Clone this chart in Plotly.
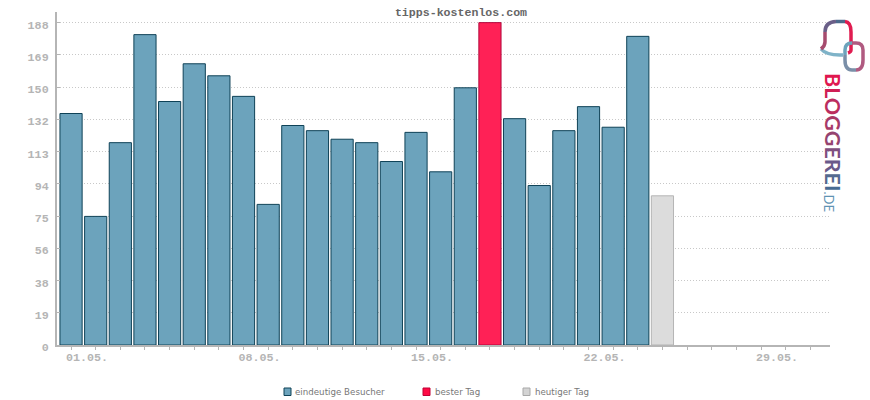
import re
import plotly.graph_objects as go

days = list(range(31))
blue_x = [d for d in range(24) if d != 17]
blue_y = [135, 75, 118, 181, 142, 164, 157, 145, 82, 128, 125, 120, 118, 107, 124, 101, 150, 132, 93, 125, 139, 127, 180]
best_x = [17]
best_y = [188]
today_x = [24]
today_y = [87]
y_tick_vals = [0, 18.8, 37.6, 56.4, 75.2, 94, 112.8, 131.6, 150.4, 169.2, 188]
y_tick_text = ["0", "19", "38", "56", "75", "94", "113", "132", "150", "169", "188"]
x_label_days = [0, 7, 14, 21, 28]
x_labels = ["01.05.", "08.05.", "15.05.", "22.05.", "29.05."]
legend_names = ["eindeutige Besucher", "bester Tag", "heutiger Tag"]

W, H = 870, 400
L, R, T, B = 57, 830, 12, 345
LABEL_SHIFT = 0.65
GREY = "#b5b5b5"

fig = go.Figure()
def bars(x, y, fill, edge, name):
    fig.add_trace(go.Bar(x=x, y=y, width=0.9, name=name, showlegend=False,
                         marker=dict(color=fill, line=dict(color=edge, width=1))))
bars(blue_x, blue_y, "#6ca3bc", "#0f4257", legend_names[0])
bars(best_x, best_y, "#ff2156", "#b3053b", legend_names[1])
bars(today_x, today_y, "#dcdcdc", "#b5b5b5", legend_names[2])

def px(x): return (x - L) / (R - L)
def py(y): return (B - y) / (B - T)

shapes = []
annotations = []
# legend
for sx, tx, fill, edge, name in [(284, 295, "#6ca3bc", "#0f4257", legend_names[0]),
                                 (423, 435, "#ff0a45", "#c00035", legend_names[1]),
                                 (523, 535, "#d4d4d4", "#a8a8a8", legend_names[2])]:
    shapes.append(dict(type="rect", xref="paper", yref="paper", x0=px(sx), x1=px(sx + 7),
                       y0=py(395.5), y1=py(388), fillcolor=fill, line=dict(color=edge, width=1)))
    annotations.append(dict(text=name, xref="paper", yref="paper", x=px(tx), y=py(392), xanchor="left",
                            yanchor="middle", showarrow=False, xshift=-2,
                            font=dict(family="DejaVu Sans", size=8.7, color="#777777")))

# logo
segs = [
    ("#7fb3c8", "M 821 49 Q 826 55 840 55 L 843 55"),
    ("#a64b6e", "M 821 49 Q 825 46 825 42 L 825 32"),
    ("#6a5f88", "M 825 32 Q 825 22 836 21.5"),
    ("#4c6a8c", "M 836 21.5 L 845 21.5"),
    ("#e01c50", "M 845 21.5 Q 851 22 851 32 L 851 50 Q 851 52 848 53"),
    ("#6ca3bc", "M 845 55 L 845 50 Q 845 43 852 43"),
    ("#b05a80", "M 852 43 L 856 43 Q 863 43 863 50 L 863 60 Q 863 70 856 70"),
    ("#7a8fa8", "M 856 70 L 852 70 Q 845 70 845 60 L 845 55"),
]
def conv(p):
    out, n = [], 0
    for tok in p.split():
        if re.match("[A-Z]", tok):
            out.append(tok)
        else:
            out.append(str(round(px(float(tok)) if n % 2 == 0 else py(float(tok)), 5)))
            n += 1
    return " ".join(out)
for c, p in segs:
    shapes.append(dict(type="path", xref="paper", yref="paper", path=conv(p), line=dict(color=c, width=3.5)))

letters = [("B", "#e0174f"), ("L", "#d01f55"), ("O", "#bb2d5e"), ("G", "#a83a68"), ("G", "#964470"),
           ("E", "#7f5080"), ("R", "#6a5a8a"), ("E", "#546a90"), ("I", "#466a92")]
logo = "".join(f'<span style="color:{c}">{t}</span>' for t, c in letters)
annotations.append(dict(text=logo, textangle=90, xref="paper", yref="paper", x=px(833), y=py(132),
                        xanchor="center", yanchor="middle", showarrow=False,
                        font=dict(family="Lato", size=21.5, weight=700)))
annotations.append(dict(text=".DE", textangle=90, xref="paper", yref="paper", x=px(829), y=py(201.5),
                        xanchor="center", yanchor="middle", showarrow=False,
                        font=dict(family="Lato", size=13, color="#5f93b3")))

x_range = [-0.57, 30.8]
fig.update_layout(
    width=W, height=H, autosize=False, bargap=0.1, barmode="overlay",
    margin=dict(l=L, r=W - R, t=T, b=H - B),
    paper_bgcolor="white", plot_bgcolor="white", showlegend=False,
    title=dict(text="tipps-kostenlos.com", x=461 / W, xanchor="center", y=1 - 12 / H, yanchor="middle",
               font=dict(family="Liberation Mono", size=11.6, color="#666666", weight="bold")),
    xaxis=dict(range=x_range, tickvals=[d + LABEL_SHIFT for d in x_label_days], ticktext=x_labels,
               ticks="", showgrid=False, zeroline=False, showline=True, linecolor=GREY, linewidth=2,
               tickfont=dict(family="Liberation Mono", size=11.7, color=GREY, weight="bold"),
               minor=dict(tickvals=days, ticks="outside", ticklen=3, tickcolor=GREY, tickwidth=1, showgrid=False)),
    yaxis=dict(range=[0, 194.2], tickvals=y_tick_vals, ticktext=y_tick_text, ticks="inside", ticklen=3,
               tickcolor=GREY, showline=True, linecolor=GREY, linewidth=2, zeroline=False,
               showgrid=True, gridcolor="#c8c8c8", griddash="1px,2px", gridwidth=1,
               ticklabelstandoff=4, ticklabelshift=2,
               tickfont=dict(family="Liberation Mono", size=11.7, color=GREY, weight="bold")),
    shapes=shapes, annotations=annotations,
)
fig.write_html("out.html", config={"displayModeBar": False},
               post_script="document.body.style.margin='0';")
